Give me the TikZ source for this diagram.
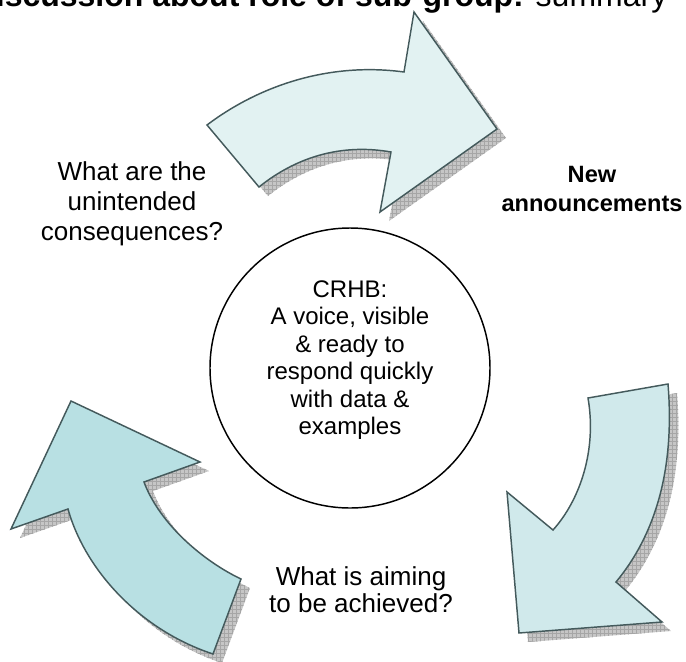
\documentclass[tikz,border=0pt]{standalone}
\usepackage{fontspec}
\setmainfont{Liberation Sans}
\usepackage{tikz}
\usetikzlibrary{patterns, positioning}
\definecolor{topfill}{RGB}{226,242,242}
\definecolor{rightfill}{RGB}{208,233,235}
\definecolor{leftfill}{RGB}{184,224,227}
\definecolor{edge}{RGB}{68,90,92}
\tikzstyle{blockarrow} = [draw=edge, line width=1.1pt, line join=miter]
\tikzstyle{shade} = [fill=gray!45, postaction={pattern=grid, pattern color=gray!70}]
\tikzstyle{question} = [align=center, font=\fontsize{19.5}{22.5}\selectfont]
% arrow outlines, pixel coordinates
\newcommand\toparrowpath{(207,125) .. controls (260,85) and (330,62) .. (404,72) -- (414,12) -- (497,129) -- (380,212) -- (391,152) .. controls (340,143) and (295,158) .. (259,187) -- cycle}
\newcommand\rightarrowpath{(588,398) -- (668,384) .. controls (675,470) and (655,535) .. (616,582) -- (662,622) -- (519,633) -- (507,492) -- (553,530) .. controls (580,500) and (597,450) .. (588,398) -- cycle}
\newcommand\leftarrowpath{(213,654) -- (241,579) .. controls (205,562) and (160,525) .. (144,482) -- (200,462) -- (71,401) -- (11,529) -- (68,509) .. controls (85,570) and (140,630) .. (213,654) -- cycle}
\begin{document}
\begin{tikzpicture}[x=0.75pt, y=-0.75pt]
\useasboundingbox (0,0) rectangle (686,661);
%----------------------------------------------------------------------------
% Shadows
\begin{scope}[shift={(9,9)}]
\path [shade] \toparrowpath;
\path [shade] \rightarrowpath;
\path [shade] \leftarrowpath;
\end{scope}

%----------------------------------------------------------------------------
% Arrows
\path [blockarrow, fill=topfill] \toparrowpath;
\path [blockarrow, fill=rightfill] \rightarrowpath;
\path [blockarrow, fill=leftfill] \leftarrowpath;

%----------------------------------------------------------------------------
% Nodes
\node (title) [anchor=base east, font=\fontsize{24}{28}\selectfont] at (672,6) {\textbf{Discussion about role of sub-group:} summary};
\node (hubCircle) [circle, draw, line width=1.1pt, minimum size=210pt, inner sep=0pt] at (350,368) {};
\node (hubText) [align=center, font=\fontsize{18}{20.6}\selectfont] at (350,360) {CRHB:\\A voice, visible\\\& ready to\\respond quickly\\with data \&\\examples};
\node (unintendedQ) [question] at (132,204) {What are the\\unintended\\consequences?};
\node (newAnnounce) [align=center, font=\fontsize{17.7}{21.7}\selectfont\bfseries] at (592,189) {New\\announcements};
\node (aimQ) [question, font=\fontsize{19.5}{20.3}\selectfont] at (361,590) {What is aiming\\to be achieved?};

\end{tikzpicture}
\end{document}
